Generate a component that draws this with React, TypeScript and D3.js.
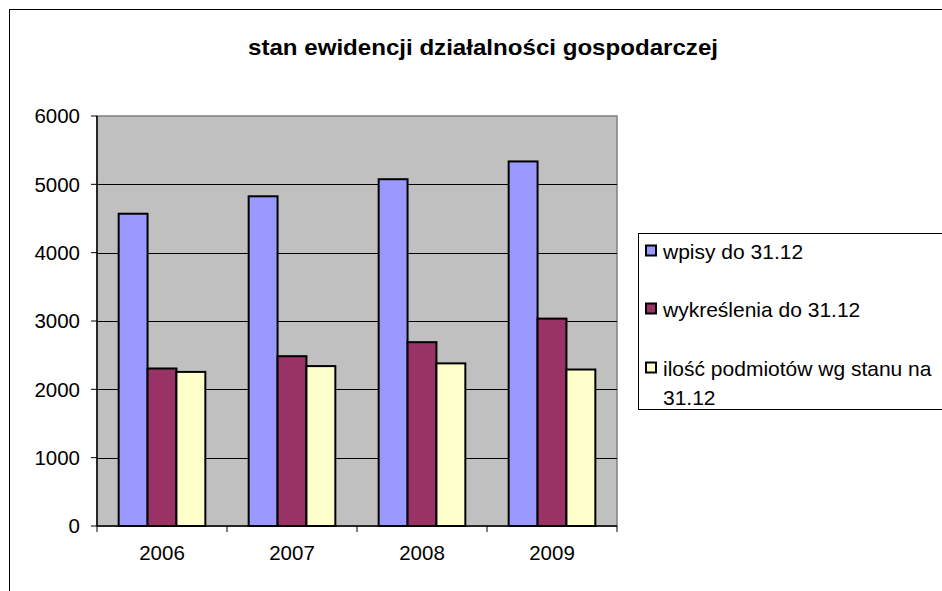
import React, { useEffect, useRef } from 'react';
import * as d3 from 'd3';

const years = ['2006', '2007', '2008', '2009'];
const seriesNames = ['wpisy do 31.12', 'wykreślenia do 31.12', 'ilość podmiotów wg stanu na 31.12'];
const wpisy = [4570, 4825, 5075, 5335];
const wykreslenia = [2305, 2485, 2690, 3035];
const podmioty = [2255, 2340, 2380, 2290];
const colors = ['#9999FF', '#993366', '#FFFFCC'];
const yTicks = [0, 1000, 2000, 3000, 4000, 5000, 6000];

function App() {
  const svgRef = useRef<SVGSVGElement>(null);

  useEffect(() => {
    const svg = d3.select(svgRef.current);
    svg.selectAll('*').remove();

    const plot = { left: 97, right: 617, top: 116, bottom: 526 };
    const font = '"Liberation Sans", Arial, sans-serif';

    // outer chart frame
    svg.append('rect')
      .attr('x', 9.5).attr('y', 9.5)
      .attr('width', 960).attr('height', 620)
      .attr('fill', '#fff').attr('stroke', '#000').attr('stroke-width', 1);

    svg.append('text')
      .attr('x', 483).attr('y', 55)
      .attr('text-anchor', 'middle')
      .attr('font-family', font)
      .attr('font-weight', 'bold')
      .attr('font-size', 22)
      .attr('textLength', 470)
      .attr('lengthAdjust', 'spacingAndGlyphs')
      .text('stan ewidencji działalności gospodarczej');

    const x0 = d3.scaleBand().domain(years).range([plot.left, plot.right]).padding(0);
    const bw = x0.bandwidth() / 4.5;
    const y = d3.scaleLinear().domain([0, 6000]).range([plot.bottom, plot.top]);

    svg.append('rect')
      .attr('x', plot.left).attr('y', plot.top)
      .attr('width', plot.right - plot.left).attr('height', plot.bottom - plot.top)
      .attr('fill', '#C0C0C0').attr('stroke', '#808080').attr('stroke-width', 1.5);

    svg.append('g').selectAll('line')
      .data(yTicks.slice(1, -1))
      .enter().append('line')
      .attr('x1', plot.left).attr('x2', plot.right)
      .attr('y1', d => Math.round(y(d)) + 0.5).attr('y2', d => Math.round(y(d)) + 0.5)
      .attr('stroke', '#000');

    const series = [wpisy, wykreslenia, podmioty];
    series.forEach((vals, si) => {
      svg.append('g').selectAll('rect')
        .data(vals)
        .enter().append('rect')
        .attr('x', (d, i) => (x0(years[i]) as number) + bw * 0.75 + si * bw)
        .attr('y', d => y(d))
        .attr('width', bw)
        .attr('height', d => y(0) - y(d))
        .attr('fill', colors[si])
        .attr('stroke', '#000')
        .attr('stroke-width', 2);
    });

    // axes
    svg.append('line')
      .attr('x1', plot.left).attr('x2', plot.left)
      .attr('y1', plot.top).attr('y2', plot.bottom)
      .attr('stroke', '#000').attr('stroke-width', 1.5);
    svg.append('line')
      .attr('x1', plot.left).attr('x2', plot.right)
      .attr('y1', plot.bottom).attr('y2', plot.bottom)
      .attr('stroke', '#000').attr('stroke-width', 1.5);

    const yt = svg.append('g');
    yTicks.forEach(t => {
      yt.append('line')
        .attr('x1', plot.left - 6).attr('x2', plot.left)
        .attr('y1', y(t)).attr('y2', y(t))
        .attr('stroke', '#000');
      yt.append('text')
        .attr('x', 80).attr('y', y(t))
        .attr('dy', '0.36em')
        .attr('text-anchor', 'end')
        .attr('font-family', font)
        .attr('font-size', 20.5)
        .text(t);
    });

    const xt = svg.append('g');
    d3.range(years.length + 1).forEach(i => {
      const xx = plot.left + i * x0.step();
      xt.append('line')
        .attr('x1', xx).attr('x2', xx)
        .attr('y1', plot.bottom).attr('y2', plot.bottom + 6)
        .attr('stroke', '#000');
    });
    years.forEach(yr => {
      xt.append('text')
        .attr('x', (x0(yr) as number) + x0.bandwidth() / 2)
        .attr('y', 560)
        .attr('text-anchor', 'middle')
        .attr('font-family', font)
        .attr('font-size', 20.5)
        .text(yr);
    });

    // legend
    const lg = svg.append('g');
    lg.append('rect')
      .attr('x', 638.5).attr('y', 233.5)
      .attr('width', 320).attr('height', 176)
      .attr('fill', '#fff').attr('stroke', '#000');
    const rows = [251, 309, 368];
    seriesNames.forEach((name, i) => {
      lg.append('rect')
        .attr('x', 646).attr('y', rows[i] - 5.5)
        .attr('width', 10).attr('height', 10)
        .attr('fill', colors[i]).attr('stroke', '#000').attr('stroke-width', 2);
      const txt = lg.append('text')
        .attr('x', 663).attr('y', rows[i])
        .attr('dy', '0.36em')
        .attr('font-family', font)
        .attr('font-size', 21);
      if (i === 2) {
        txt.append('tspan').text('ilość podmiotów wg stanu na');
        txt.append('tspan').attr('x', 663).attr('dy', 29).text('31.12');
      } else {
        txt.text(name);
      }
    });
  }, []);

  return (
    <svg
      ref={svgRef}
      width={942}
      height={591}
      style={{ position: 'absolute', left: 0, top: 0, background: '#fff' }}
    />
  );
}

export default App;
